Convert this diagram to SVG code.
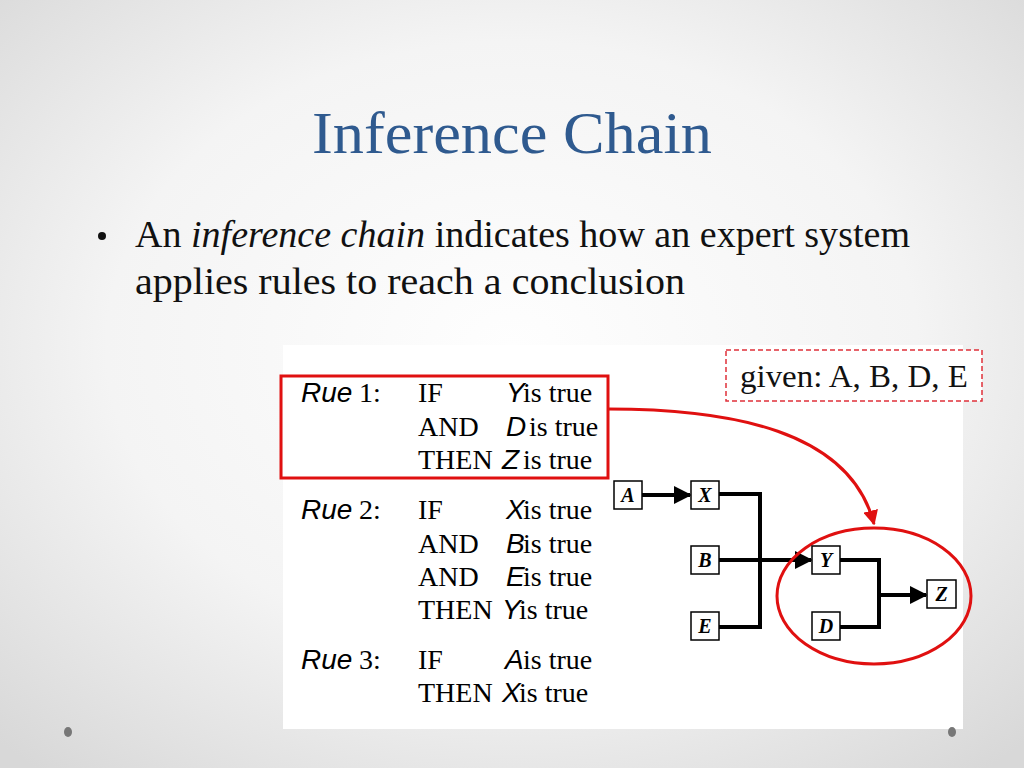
<svg xmlns="http://www.w3.org/2000/svg" width="1024" height="768" viewBox="0 0 1024 768">
<defs>
<radialGradient id="bg" cx="50%" cy="45%" r="72%">
<stop offset="0" stop-color="#fefefe"/>
<stop offset="0.55" stop-color="#f4f4f4"/>
<stop offset="1" stop-color="#d8d8d8"/>
</radialGradient>
<marker id="ah" viewBox="0 0 10 10" refX="9" refY="5" markerWidth="4.5" markerHeight="4.5" orient="auto" markerUnits="strokeWidth">
<path d="M0,0 L10,5 L0,10 z" fill="#000"/>
</marker>
<marker id="rah" viewBox="0 0 10 10" refX="9" refY="5" markerWidth="5" markerHeight="5" orient="auto" markerUnits="strokeWidth">
<path d="M0,0 L10,5 L0,10 z" fill="#e01010"/>
</marker>
</defs>
<style>
.title{font-family:"Liberation Serif",serif;font-size:60px;fill:#2f5a8f}
.body{font-family:"Liberation Serif",serif;font-size:38px;fill:#111}
.rt{font-family:"Liberation Serif",serif;font-size:28px;fill:#000}
.ri{font-family:"Liberation Sans",sans-serif;font-style:italic;font-size:28px;fill:#000}
.nb{fill:#fff;stroke:#000;stroke-width:1.5}
.nl{font-family:"Liberation Serif",serif;font-weight:bold;font-style:italic;font-size:20px;fill:#000;text-anchor:middle}
.wire{fill:none;stroke:#000;stroke-width:4}
</style>
<rect width="1024" height="768" fill="url(#bg)"/>
<text class="title" x="512" y="153" text-anchor="middle" textLength="400" lengthAdjust="spacingAndGlyphs">Inference Chain</text>
<circle cx="102" cy="236" r="4" fill="#111"/>
<text class="body" x="135" y="247" textLength="775" lengthAdjust="spacingAndGlyphs">An <tspan font-style="italic">inference chain</tspan> indicates how an expert system</text>
<text class="body" x="135" y="294" textLength="550" lengthAdjust="spacingAndGlyphs">applies rules to reach a conclusion</text>
<rect x="283" y="345" width="680" height="384" fill="#fff"/>
<g id="rules">
<text class="ri" x="301" y="402">Rue</text><text class="rt" x="359" y="402">1:</text>
<text class="rt" x="418" y="402">IF</text><text class="ri" x="506" y="402">Y</text><text class="rt" x="523" y="402">is true</text>
<text class="rt" x="418" y="436">AND</text><text class="ri" x="506" y="436">D</text><text class="rt" x="529" y="436">is true</text>
<text class="rt" x="418" y="469">THEN</text><text class="ri" x="502" y="469">Z</text><text class="rt" x="523" y="469">is true</text>
<text class="ri" x="301" y="519">Rue</text><text class="rt" x="359" y="519">2:</text>
<text class="rt" x="418" y="519">IF</text><text class="ri" x="506" y="519">X</text><text class="rt" x="523" y="519">is true</text>
<text class="rt" x="418" y="553">AND</text><text class="ri" x="506" y="553">B</text><text class="rt" x="523" y="553">is true</text>
<text class="rt" x="418" y="586">AND</text><text class="ri" x="506" y="586">E</text><text class="rt" x="523" y="586">is true</text>
<text class="rt" x="418" y="619">THEN</text><text class="ri" x="502" y="619">Y</text><text class="rt" x="519" y="619">is true</text>
<text class="ri" x="301" y="669">Rue</text><text class="rt" x="359" y="669">3:</text>
<text class="rt" x="418" y="669">IF</text><text class="ri" x="505" y="669">A</text><text class="rt" x="523" y="669">is true</text>
<text class="rt" x="418" y="702">THEN</text><text class="ri" x="502" y="702">X</text><text class="rt" x="519" y="702">is true</text>
</g>
<rect id="rule1-box" x="281" y="376" width="327" height="102" fill="none" stroke="#e01010" stroke-width="3"/>
<g id="given">
<rect x="726" y="350" width="256" height="51" fill="#fff" stroke="#e0303a" stroke-width="1.5" stroke-dasharray="5,3"/>
<text x="740" y="387" font-family="Liberation Serif,serif" font-size="31" fill="#111" textLength="228" lengthAdjust="spacingAndGlyphs">given: A, B, D, E</text>
</g>
<g id="connectors">
<path class="wire" d="M642,495 H690" marker-end="url(#ah)"/>
<path class="wire" d="M719,494 H760 V627 H719"/>
<path class="wire" d="M719,560 H811" marker-end="url(#ah)"/>
<path class="wire" d="M840,560 H879 V627 H840"/>
<path class="wire" d="M879,595 H926" marker-end="url(#ah)"/>
<path d="M608,409 C730,409 850,430 874,524" fill="none" stroke="#e01010" stroke-width="3" marker-end="url(#rah)"/>
<ellipse cx="874" cy="596" rx="97" ry="68" fill="none" stroke="#e01010" stroke-width="3"/>
</g>
<g id="node-A"><rect class="nb" x="614" y="481" width="28" height="28"/><text class="nl" x="628" y="502">A</text></g>
<g id="node-X"><rect class="nb" x="691" y="481" width="28" height="28"/><text class="nl" x="705" y="502">X</text></g>
<g id="node-B"><rect class="nb" x="691" y="546" width="28" height="28"/><text class="nl" x="705" y="567">B</text></g>
<g id="node-E"><rect class="nb" x="691" y="612" width="28" height="28"/><text class="nl" x="705" y="633">E</text></g>
<g id="node-Y"><rect class="nb" x="812" y="546" width="28" height="28"/><text class="nl" x="826" y="567">Y</text></g>
<g id="node-D"><rect class="nb" x="812" y="612" width="28" height="28"/><text class="nl" x="826" y="633">D</text></g>
<g id="node-Z"><rect class="nb" x="927" y="580" width="29" height="28"/><text class="nl" x="941.5" y="601" font-style="normal">Z</text></g>
<ellipse cx="68" cy="732" rx="4" ry="5" fill="#777"/>
<ellipse cx="952" cy="732" rx="4" ry="5" fill="#777"/>
</svg>
